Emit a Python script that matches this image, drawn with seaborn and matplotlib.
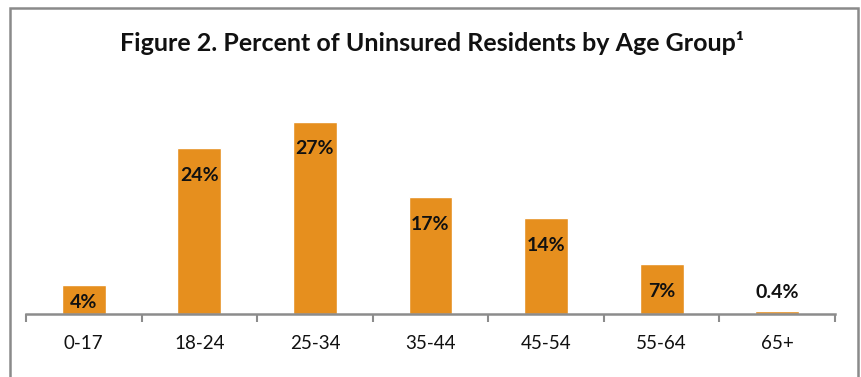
import matplotlib
matplotlib.use("Agg")
import matplotlib.pyplot as plt
import seaborn as sns
import pandas as pd
import numpy as np
from matplotlib.patches import Rectangle

age_groups = ["0-17", "18-24", "25-34", "35-44", "45-54", "55-64", "65+"]
pct_values = [4.1, 23.7, 27.5, 16.7, 13.7, 7.1, 0.4]
pct_labels = ["4%", "24%", "27%", "17%", "14%", "7%", "0.4%"]

sns.set_theme(style="white")
plt.rcParams['font.family'] = ['Lato', 'DejaVu Sans']

df = pd.DataFrame({"age": age_groups, "pct": pct_values})

fig = plt.figure(figsize=(8.62, 3.77), dpi=100)
ax = fig.add_axes([26/862, 63/377, 809/862, 245/377])

sns.barplot(data=df, x="age", y="pct", color="#E68F1E", saturation=1,
            width=0.38, ax=ax)

ax.set_xlim(-0.5, len(age_groups) - 0.5)
ax.set_ylim(0, 35)
ax.set_xlabel("")
ax.set_ylabel("")
ax.set_yticks([])
for s in ["top", "right", "left"]:
    ax.spines[s].set_visible(False)
ax.spines["bottom"].set_color("#8C8C8C")
ax.spines["bottom"].set_linewidth(1.8)

ax.set_xticks(range(len(age_groups)))
ax.set_xticklabels(age_groups, fontsize=13.5, color="#111111")
ax.tick_params(axis="x", which="major", length=0, pad=15)
ax.set_xticks(np.arange(-0.5, len(age_groups), 1.0), minor=True)
ax.tick_params(axis="x", which="minor", length=6, width=1.5, color="#8C8C8C",
               direction="out", bottom=True)

px_per_unit = 245 / 35
for i, (v, lab) in enumerate(zip(pct_values, pct_labels)):
    h_px = v * px_per_unit
    if h_px > 40:
        off = -27
        yref = v
    elif h_px > 10:
        off = 12
        yref = 0
    else:
        off = 21
        yref = 0
    ax.annotate(lab, xy=(i, yref), xytext=(0, off * 0.72), textcoords="offset points",
                ha="center", va="center", fontsize=14, fontweight="bold",
                color="#111111")

fig.text(432/862, 1 - 43/377, "Figure 2. Percent of Uninsured Residents by Age Group\u00b9",
         ha="center", va="center", fontsize=18, fontweight="bold", color="#111111")

fig.patches.append(Rectangle((10/862, -0.1), 848/862, 1 - 8/377 + 0.1,
                             transform=fig.transFigure, fill=False,
                             edgecolor="#8A8A8A", linewidth=1.8, clip_on=False))

fig.savefig("out.png", dpi=100)
